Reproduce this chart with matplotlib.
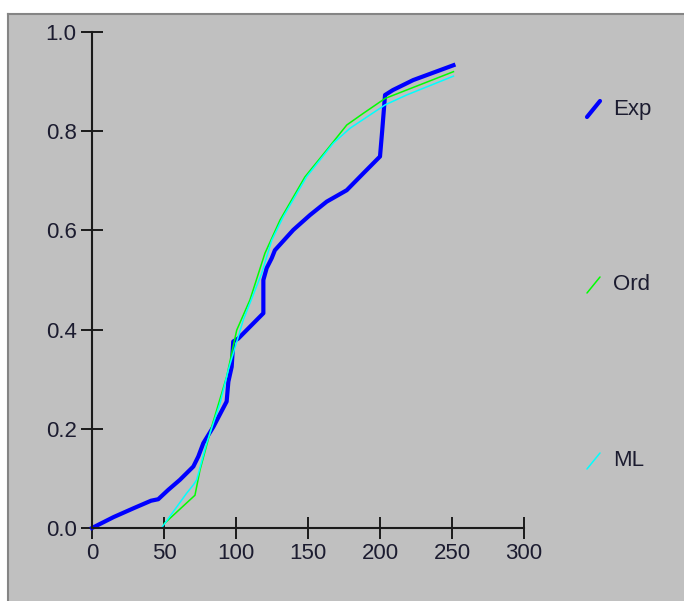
import matplotlib
matplotlib.use("Agg")
import matplotlib.pyplot as plt
from matplotlib.lines import Line2D
from matplotlib.patches import Rectangle

plt.rcParams['font.family'] = ['Liberation Sans', 'DejaVu Sans']

# data
exp_x = [0, 15, 29, 41, 46, 53, 61, 70.4, 73.8, 77.3, 84.3, 93.5, 94.7, 97, 98.1,
         101.6, 119, 119, 121.3, 124.8, 127, 139.8, 151.4, 163, 176.9, 188.4, 200,
         201.5, 203.5, 209, 223, 251]
exp_y = [0, 0.022, 0.04, 0.055, 0.058, 0.077, 0.097, 0.124, 0.144, 0.171, 0.204,
         0.255, 0.295, 0.325, 0.376, 0.382, 0.433, 0.5, 0.524, 0.544, 0.56, 0.601,
         0.631, 0.658, 0.681, 0.715, 0.749, 0.80, 0.873, 0.883, 0.903, 0.933]

ord_x = [50.2, 71.5, 75, 83.1, 93.5, 100.5, 109.7, 120.1, 130.6, 147.9, 163, 176.9,
         188.4, 203.5, 251]
ord_y = [0.009, 0.066, 0.117, 0.204, 0.305, 0.399, 0.46, 0.554, 0.621, 0.708, 0.762,
         0.8125, 0.836, 0.866, 0.92]

ml_x = [49, 65.7, 70.4, 72.7, 79.6, 88.9, 94.7, 105, 117.8, 124.8, 132.9, 149, 167.6,
        179.2, 203.5, 218.5, 251]
ml_y = [0.003, 0.07, 0.087, 0.097, 0.171, 0.251, 0.319, 0.419, 0.513, 0.58, 0.628,
        0.708, 0.776, 0.806, 0.853, 0.873, 0.911]

series_names = ['Exp', 'Ord', 'ML']
series_colors = ['#0000ff', '#00ff00', '#00ffff']
x_ticks = [0, 50, 100, 150, 200, 250, 300]
y_ticks = [0.0, 0.2, 0.4, 0.6, 0.8, 1.0]

W, H = 684, 601
fig = plt.figure(figsize=(W / 100, H / 100), dpi=100, facecolor='white')

# gray panel with a darker top/left edge
fig.patches.append(Rectangle((7 / W, 0), 1, 1 - 13 / H, transform=fig.transFigure,
                             facecolor='#c0c0c0', edgecolor='none', zorder=-10))
fig.add_artist(Line2D([7.5 / W, 1], [1 - 13.5 / H] * 2, color='#858585', lw=1.5))
fig.add_artist(Line2D([7.5 / W] * 2, [0, 1 - 13.5 / H], color='#858585', lw=1.5))

ax = fig.add_axes([92 / W, 1 - 528 / H, (524 - 92) / W, (528 - 32) / H])
ax.set_facecolor('none')

ax.plot(exp_x, exp_y, color=series_colors[0], lw=3.0, clip_on=False,
        solid_joinstyle='round')
ax.plot(ord_x, ord_y, color=series_colors[1], lw=1.1, clip_on=False)
ax.plot(ml_x, ml_y, color=series_colors[2], lw=1.1, clip_on=False)

ax.set_xlim(0, 300)
ax.set_ylim(0, 1)
ax.set_xticks(x_ticks)
ax.set_yticks(y_ticks)
ax.set_yticklabels([f'{v:.1f}' for v in y_ticks])

for s in ['top', 'right']:
    ax.spines[s].set_visible(False)
for s in ['left', 'bottom']:
    ax.spines[s].set_color('#1a1a1a')
    ax.spines[s].set_linewidth(1.5)

ax.tick_params(direction='inout', length=16, width=1.4, color='#1a1a1a',
               labelsize=16, labelcolor='#1c1c30', pad=3)

# legend keys: short slanted strokes on the right
legend_y = [109, 285, 461]
legend_lw = [3.0, 1.1, 1.1]
for name, col, yc, lw in zip(series_names, series_colors, legend_y, legend_lw):
    fig.add_artist(Line2D([587 / W, 600 / W], [1 - (yc + 8) / H, 1 - (yc - 8) / H],
                          color=col, lw=lw, solid_capstyle='round'))
    fig.text(613 / W, 1 - yc / H, name, fontsize=16, color='#1c1c30',
             ha='left', va='center')

fig.savefig('out.png', dpi=100, facecolor=fig.get_facecolor())
